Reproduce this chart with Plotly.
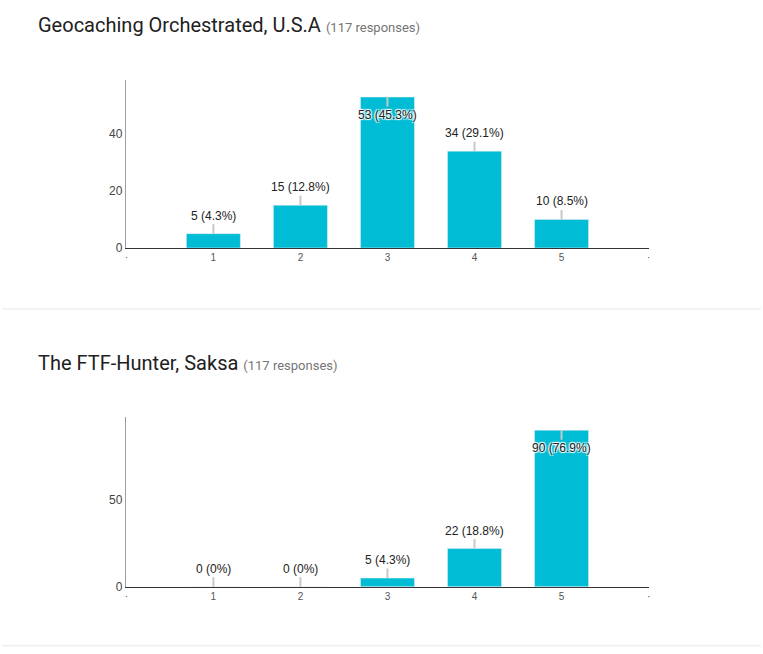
import plotly.graph_objects as go

# ---- data ----
categories = [1, 2, 3, 4, 5]
tick_text = ["·", "1", "2", "3", "4", "5", "·"]
tick_vals = [0, 1, 2, 3, 4, 5, 6]

title_a = "Geocaching Orchestrated, U.S.A"
counts_a = [5, 15, 53, 34, 10]
pct_a = ["4.3%", "12.8%", "45.3%", "29.1%", "8.5%"]

title_b = "The FTF-Hunter, Saksa"
counts_b = [0, 0, 5, 22, 90]
pct_b = ["0%", "0%", "4.3%", "18.8%", "76.9%"]

responses = "117 responses"

BAR = "#00BCD4"
W, H = 763, 654
VS = 1.0105  # vertical compensation
LABEL_FONT = "Arial, Liberation Sans, sans-serif"
TITLE_FONT = "Roboto, Arial"


def py(px):
    return max(0.0, (H - px * VS) / H)


def px_x(px):
    return px / W


fig = go.Figure()

panels = [
    dict(counts=counts_a, pct=pct_a, title=title_a, xa="x", ya="y",
         top=80, bottom=248, ymax=59, ticks=[0, 20, 40], title_y=25,
         inside_thresh=50),
    dict(counts=counts_b, pct=pct_b, title=title_b, xa="x2", ya="y2",
         top=417, bottom=587, ymax=97.7, ticks=[0, 50], title_y=363,
         inside_thresh=80),
]

annotations = []
shapes = []
halo = "1px 1px 1px white, -1px -1px 1px white, 1px -1px 1px white, -1px 1px 1px white"
for i, p in enumerate(panels):
    fig.add_trace(go.Bar(
        x=categories, y=p["counts"], marker_color=BAR, width=0.62,
        xaxis=p["xa"], yaxis=p["ya"], hoverinfo="skip", showlegend=False,
    ))
    for c, v, pc in zip(categories, p["counts"], p["pct"]):
        inside = v >= p["inside_thresh"]
        annotations.append(dict(
            x=c, y=v, xref=p["xa"], yref=p["ya"],
            text=f"{v} ({pc})", showarrow=True, arrowhead=0,
            arrowwidth=2, arrowcolor="#c8c8c8", ax=0,
            ay=18 if inside else -18, standoff=0, startstandoff=0,
            font=dict(family=LABEL_FONT, size=12, color="#222",
                      shadow=halo if inside else "none"),
        ))
    annotations.append(dict(
        x=px_x(34), y=py(p["title_y"]), xref="paper", yref="paper",
        xanchor="left", yanchor="middle", showarrow=False,
        text=f"{p['title']} <span style='font-size:13px;color:#757575'>({responses})</span>",
        font=dict(family=TITLE_FONT, size=20, color="#212121"),
    ))

    dom_x = [px_x(125), px_x(650)]
    dom_y = [py(p["bottom"]), py(p["top"])]
    sfx = "" if i == 0 else "2"
    fig.update_layout(**{
        f"xaxis{sfx}": dict(
            domain=dom_x, range=[0, 6], tickvals=tick_vals, ticktext=tick_text,
            showgrid=False, zeroline=False, showline=True, linecolor="#333",
            linewidth=1.5, ticks="", tickfont=dict(family=LABEL_FONT, size=10, color="#555"),
            anchor="y" + sfx, fixedrange=True,
        ),
        f"yaxis{sfx}": dict(
            domain=dom_y, range=[0, p["ymax"]], tickvals=p["ticks"],
            showgrid=False, zeroline=False, showline=True, linecolor="#9e9e9e",
            linewidth=1.5, ticks="", ticklen=0,
            tickfont=dict(family=LABEL_FONT, size=12, color="#444"),
            anchor="x" + sfx, fixedrange=True,
        ),
    })

# separators
for ypx in [309, 646]:
    shapes.append(dict(type="line", xref="paper", yref="paper", x0=0, x1=1,
                       y0=py(ypx), y1=py(ypx), line=dict(color="#e6e6e6", width=1)))

fig.update_layout(
    width=W, height=H, margin=dict(l=0, r=0, t=0, b=0),
    paper_bgcolor="white", plot_bgcolor="white",
    annotations=annotations, shapes=shapes, bargap=0.38,
)

js = (
    "var d=document.documentElement,b=document.body;"
    "d.style.margin='0';d.style.padding='0';d.style.height='654px';d.style.overflow='hidden';"
    "b.style.margin='0';b.style.padding='0';b.style.height='654px';b.style.overflow='hidden';"
)

fig.write_html(
    "out.html",
    config={"displayModeBar": False, "staticPlot": True},
    post_script=js,
)
